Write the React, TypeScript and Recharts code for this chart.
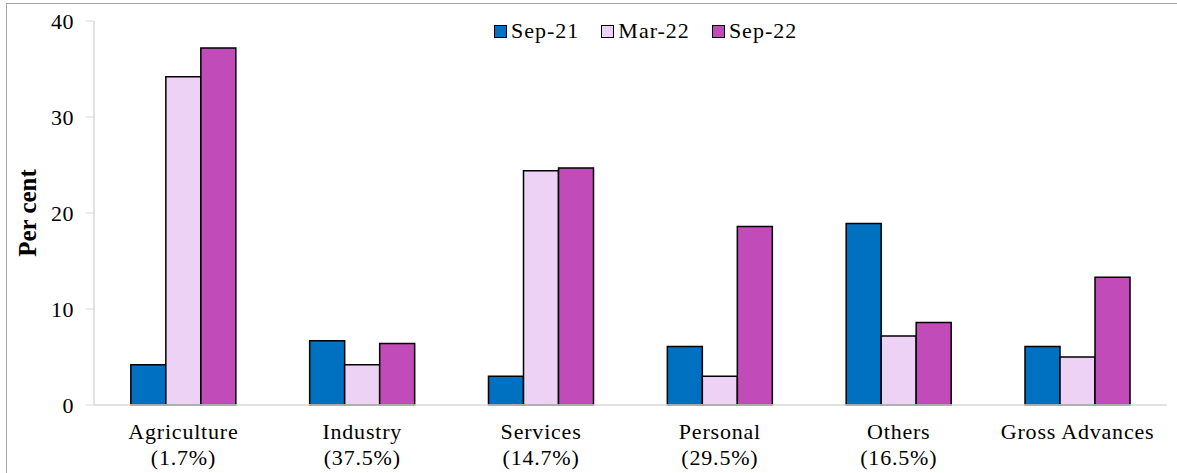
import React from 'react';
import { BarChart, Bar, XAxis, YAxis, Legend, Label } from 'recharts';

const categories = ['Agriculture', 'Industry', 'Services', 'Personal', 'Others', 'Gross Advances'];
const shares = ['(1.7%)', '(37.5%)', '(14.7%)', '(29.5%)', '(16.5%)', ''];
const sep21 = [4.2, 6.7, 3.0, 6.1, 18.9, 6.1];
const mar22 = [34.2, 4.2, 24.4, 3.0, 7.2, 5.0];
const sep22 = [37.2, 6.4, 24.7, 18.6, 8.6, 13.3];
const yTicks = [0, 10, 20, 30, 40];

const SERIES = [
  { key: 'sep21', name: 'Sep-21', color: '#0070C0' },
  { key: 'mar22', name: 'Mar-22', color: '#EED2F6' },
  { key: 'sep22', name: 'Sep-22', color: '#C04BB9' },
];

const FONT = "'Liberation Serif', 'DejaVu Serif', serif";

const data = categories.map((name, i) => ({
  name,
  sep21: sep21[i],
  mar22: mar22[i],
  sep22: sep22[i],
}));

function CategoryTick({ x, y, payload, index }: any) {
  const share = shares[payload?.index ?? index] ?? '';
  const textStyle = { fontFamily: FONT, letterSpacing: '0.8px' };
  return (
    <g transform={`translate(${x},${y})`}>
      <text x={0} y={0} dy={26} textAnchor="middle" style={textStyle} fontSize={22} fill="#000">
        {payload.value}
      </text>
      {share && (
        <text x={0} y={0} dy={52} textAnchor="middle" style={textStyle} fontSize={22} fill="#000">
          {share}
        </text>
      )}
    </g>
  );
}

function LegendBox() {
  return (
    <div style={{ display: 'flex', alignItems: 'center', fontFamily: FONT, fontSize: 22, letterSpacing: '1px' }}>
      {SERIES.map((s) => (
        <div key={s.key} style={{ display: 'flex', alignItems: 'center', marginRight: 22 }}>
          <span
            style={{
              display: 'inline-block',
              width: 11,
              height: 11,
              background: s.color,
              border: '1.5px solid #000',
              marginRight: 4,
            }}
          />
          <span>{s.name}</span>
        </div>
      ))}
    </div>
  );
}

export default function App() {
  return (
    <div style={{ position: 'absolute', left: 0, top: 0, width: 1177, height: 473, background: '#fff', overflow: 'hidden', fontFamily: FONT }}>
      <div
        style={{
          position: 'absolute',
          left: 6,
          top: 3,
          width: 1190,
          height: 490,
          border: '1px solid #a6a6a6',
        }}
      />
      <BarChart
        width={1177}
        height={473}
        data={data}
        margin={{ top: 21, right: 10, bottom: 0, left: 0 }}
        barCategoryGap="20.6%"
        barGap={0}
        style={{ position: 'absolute', left: 0, top: 0 }}
      >
        <XAxis
          dataKey="name"
          height={68}
          interval={0}
          tick={<CategoryTick />}
          tickLine={false}
          axisLine={{ stroke: '#d9d9d9', strokeWidth: 1.5 }}
        />
        <YAxis
          width={94}
          domain={[0, 40]}
          ticks={yTicks}
          tickSize={8}
          tickMargin={12}
          tickLine={{ stroke: '#d9d9d9' }}
          axisLine={{ stroke: '#d9d9d9', strokeWidth: 1.5 }}
          tick={{ fontSize: 22, fill: '#000', style: { fontFamily: FONT, letterSpacing: '0.5px' } }}
        >
          <Label
            content={() => (
              <text
                x={27}
                y={213}
                transform="rotate(-90 27 213)"
                textAnchor="middle"
                dominantBaseline="central"
                style={{ fontFamily: FONT }}
                fontWeight="bold"
                fontSize={25}
                fill="#000"
              >
                Per cent
              </text>
            )}
          />
        </YAxis>
        <Legend
          verticalAlign="middle"
          align="center"
          content={<LegendBox />}
          wrapperStyle={{ top: 18, left: 494, width: 'auto' }}
        />
        {SERIES.map((s) => (
          <Bar
            key={s.key}
            dataKey={s.key}
            name={s.name}
            fill={s.color}
            stroke="#000"
            strokeWidth={1.5}
            isAnimationActive={false}
          />
        ))}
      </BarChart>
    </div>
  );
}
